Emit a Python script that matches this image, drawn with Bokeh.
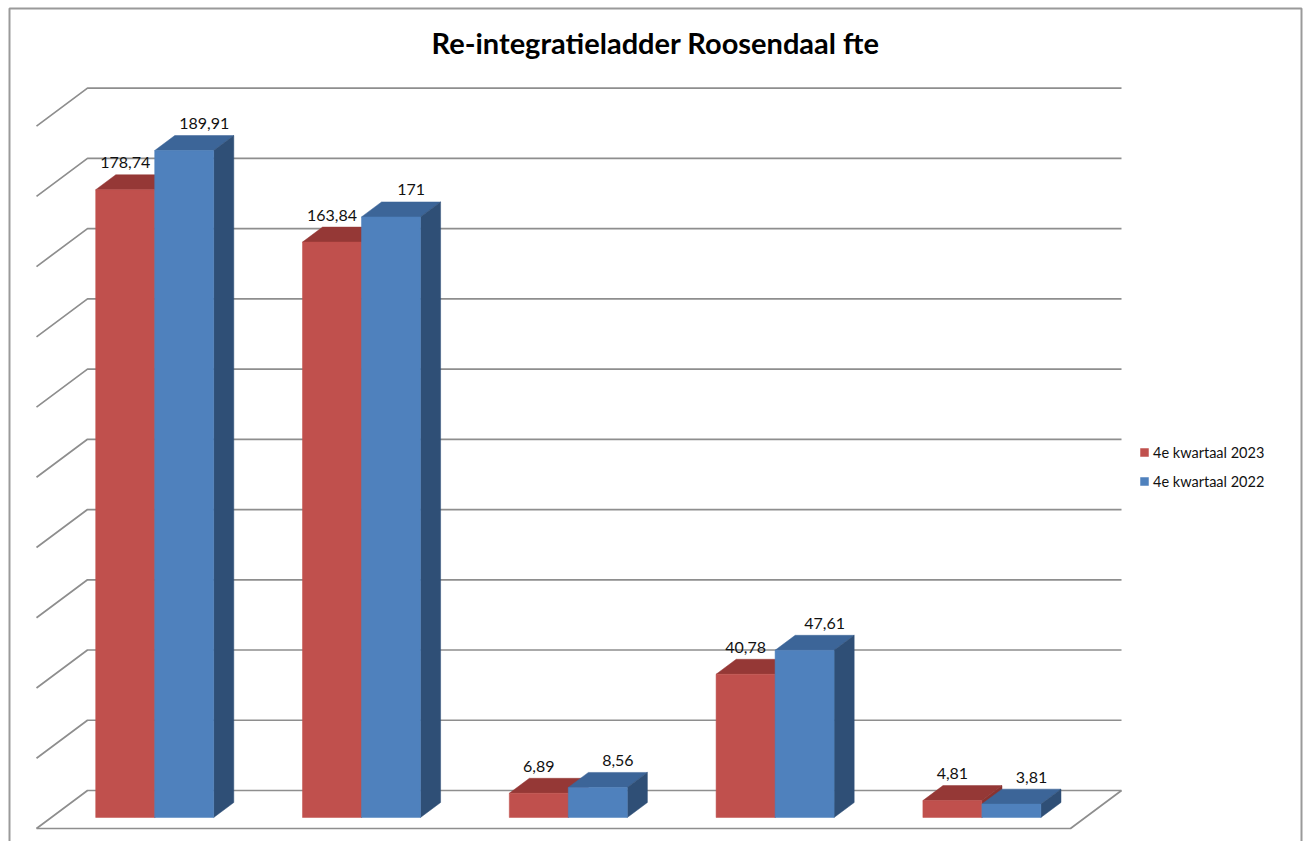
from bokeh.plotting import figure
from bokeh.models import Range1d, Legend, LegendItem, Label, ColumnDataSource
from bokeh.embed import file_html
from bokeh.resources import INLINE
from bokeh.core.properties import value

# ---------------- data ----------------
categories = ["1", "2", "3", "4", "5"]
series_names = ["4e kwartaal 2023", "4e kwartaal 2022"]
values_2023 = [178.74, 163.84, 6.89, 40.78, 4.81]
values_2022 = [189.91, 171, 8.56, 47.61, 3.81]
gridline_values = [0, 20, 40, 60, 80, 100, 120, 140, 160, 180, 200]
title_text = "Re-integratieladder Roosendaal fte"

# ---------------- layout ----------------
W, H = 1304, 841
PX_X = 206.8      # pixels per category
PX_Y = 3.512      # pixels per value unit
ORIG_X, ORIG_Y = 36, 828   # canvas px of the front-left floor corner


def cx(px):
    return (px - ORIG_X) / PX_X


def cy(py):
    return (ORIG_Y - py) / PX_Y


n = len(categories)
DX, DY = 51 / PX_X, 38 / PX_Y          # full floor depth
F_FRONT, F_BACK = 0.29, 0.684          # bar depth position
BW = 59 / PX_X                          # bar width
bdx, bdy = (F_BACK - F_FRONT) * DX, (F_BACK - F_FRONT) * DY
fx, fy = F_FRONT * DX, F_FRONT * DY

p = figure(width=W, height=H, x_range=Range1d(cx(0), cx(W)), y_range=Range1d(cy(H), cy(0)),
           output_backend="svg", toolbar_location=None, min_border=0,
           x_axis_location=None, y_axis_location=None)
p.grid.visible = False
p.outline_line_color = None
p.background_fill_color = "white"
p.border_fill_color = "white"

# outer chart border (left, top, right)
p.line([cx(9), cx(9), cx(1301), cx(1301)], [cy(H + 5), cy(8), cy(8), cy(H + 5)],
       line_color="#9a9a9a", line_width=2)

GRID = "#8e8e8e"
# gridlines: back wall + left diagonals
gx, gy = [], []
for v in gridline_values:
    gx.append([0, DX, n + DX])
    gy.append([v, v + DY, v + DY])
# floor front edge and right diagonal
gx.append([0, n, n + DX])
gy.append([0, 0, DY])
p.multi_line(gx, gy, line_color=GRID, line_width=1.7)

colors = {
    0: dict(front="#C0504D", top="#953836", side="#8A3330"),
    1: dict(front="#4F81BD", top="#3C6598", side="#2F4F76"),
}
series_values = [values_2023, values_2022]

renderers = []
label_x, label_y, label_t = [], [], []
for s, vals in enumerate(series_values):
    xs, ys, cols = [], [], []
    for i, v in enumerate(vals):
        x0 = i + 0.5 - BW + s * BW + fx
        y0 = fy
        top = y0 + v
        # top face
        xs.append([x0, x0 + BW, x0 + BW + bdx, x0 + bdx])
        ys.append([top, top, top + bdy, top + bdy])
        cols.append(colors[s]["top"])
        # side face
        xs.append([x0 + BW, x0 + BW + bdx, x0 + BW + bdx, x0 + BW])
        ys.append([y0, y0 + bdy, top + bdy, top])
        cols.append(colors[s]["side"])
        # front face
        xs.append([x0, x0 + BW, x0 + BW, x0])
        ys.append([y0, y0, top, top])
        cols.append(colors[s]["front"])
        lx = x0 + BW / 2 + (bdx if s == 1 else 0)
        label_x.append(lx)
        label_y.append(top + bdy)
        label_t.append(f"{v:g}".replace(".", ","))
    src = ColumnDataSource(dict(xs=xs, ys=ys, c=cols))
    r = p.patches("xs", "ys", source=src, fill_color="c", line_color="c", line_width=0.5)
    renderers.append(r)

p.text(label_x, label_y, text=label_t, y_offset=-12, text_align="center", text_baseline="middle",
       text_font=value("Lato"), text_font_size="16px", text_color="#111111")

title = Label(x=cx(655), y=cy(42), text=title_text, text_align="center",
              text_baseline="middle", text_font="Lato", text_font_style="bold",
              text_font_size="29px", text_color="#000000")
p.add_layout(title)

legend = Legend(items=[LegendItem(label=series_names[k], renderers=[renderers[k]], index=2)
                       for k in range(2)],
                location=(1139, H - 491), orientation="vertical",
                glyph_width=10, glyph_height=10, label_height=20, spacing=9,
                label_standoff=4, padding=0, margin=0,
                label_text_font="Lato", label_text_font_size="14.5px", label_text_color="#111111",
                border_line_alpha=0, background_fill_alpha=0)
p.add_layout(legend)

open("out.html", "w").write(file_html(p, INLINE))
